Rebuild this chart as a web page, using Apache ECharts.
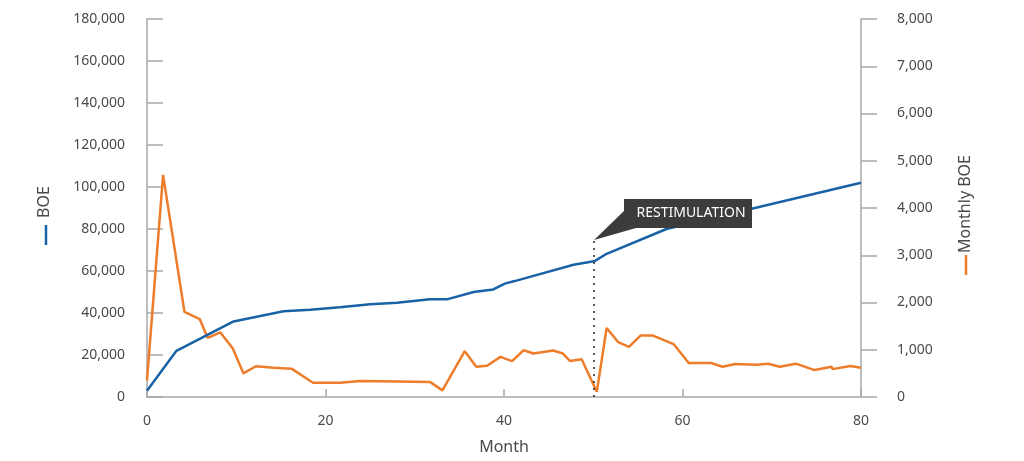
<!DOCTYPE html>
<html>
<head>
<meta charset="utf-8">
<script src="https://cdn.jsdelivr.net/npm/echarts@6/dist/echarts.min.js"></script>
<style>
  html, body { margin: 0; padding: 0; background: #fff; }
  #chart { width: 1024px; height: 461px; }
</style>
</head>
<body>
<div id="chart"></div>
<script>
// cumulative BOE (left axis)
var boeMonths = [0, 3.3, 9.7, 15.3, 18.3, 21.6, 25, 28, 31.7, 33.6, 36.6, 38.8, 40.1, 41.2, 42.9, 47.8, 50.2, 51.5, 58.2, 80];
var boeValues = [3000, 22000, 36000, 40800, 41500, 42700, 44200, 44900, 46500, 46500, 50000, 51200, 54000, 55200, 57200, 63000, 64800, 68200, 80000, 102000];

// monthly BOE (right axis)
var monthlyMonths = [0, 1.8, 4.2, 5.9, 6.8, 8.2, 9.6, 10.8, 12.2, 14.2, 16.2, 18.6, 21.6, 23.9, 28, 31.7, 33.1, 35.6, 36.9, 38.1,
  39.6, 40.9, 42.2, 43.3, 45.5, 46.6, 47.4, 48.7, 50.4, 51.5, 52.8, 54.0, 55.3, 56.7, 59.0, 60.7, 63.2, 64.5, 65.9, 68.3,
  69.6, 70.9, 72.7, 74.8, 76.7, 76.8, 78.8, 80];
var monthlyValues = [350, 4700, 1800, 1650, 1250, 1370, 1030, 500, 650, 620, 600, 300, 300, 340, 330, 320, 140, 970, 640, 660,
  850, 760, 990, 920, 985, 920, 760, 800, 110, 1460, 1160, 1060, 1300, 1300, 1120, 720, 720, 640, 700, 685,
  705, 640, 705, 570, 640, 590, 655, 620];

var restimMonth = 50;
var restimTop = 75000;
var calloutText = 'RESTIMULATION';

var FONT = "'Liberation Sans Narrow', 'Noto Sans', sans-serif";
var BLUE = '#1a62a6';
var ORANGE = '#ee7d2b';
var AXIS = '#a8a8a8';
var LABEL = '#4a4a4a';

function pairs(xs, ys) {
    return xs.map(function(x, i) { return [x, ys[i]]; });
}

function fmt(v) {
    return v.toLocaleString('en-US');
}

var chart = echarts.init(document.getElementById('chart'));

chart.setOption({
    animation: false,
    grid: { left: 147, right: 163, top: 19, bottom: 64 },
    xAxis: {
        type: 'value',
        min: 0, max: 80, interval: 20,
        name: 'Month',
        nameLocation: 'middle',
        nameGap: 42,
        nameTextStyle: { color: LABEL, fontSize: 16, fontFamily: FONT },
        axisLine: { lineStyle: { color: AXIS, width: 1.5 } },
        axisTick: { show: true, inside: true, length: 8, lineStyle: { color: AXIS, width: 1.5 } },
        axisLabel: { color: LABEL, fontSize: 14, fontFamily: FONT, margin: 17 },
        splitLine: { show: false }
    },
    yAxis: [{
        type: 'value',
        min: 0, max: 180000, interval: 20000,
        position: 'left',
        axisLine: { show: true, lineStyle: { color: AXIS, width: 1.5 } },
        axisTick: { show: true, inside: true, length: 16, lineStyle: { color: AXIS, width: 1.5 } },
        axisLabel: { color: LABEL, fontSize: 14, fontFamily: FONT, margin: 22, formatter: fmt },
        splitLine: { show: false }
    }, {
        type: 'value',
        min: 0, max: 8000, interval: 1000,
        position: 'right',
        axisLine: { show: true, lineStyle: { color: AXIS, width: 1.5 } },
        axisTick: { show: true, inside: false, length: 16, lineStyle: { color: AXIS, width: 1.5 } },
        axisLabel: { color: LABEL, fontSize: 14, fontFamily: FONT, margin: 36, formatter: fmt },
        splitLine: { show: false }
    }],
    series: [{
        name: 'BOE',
        type: 'line',
        yAxisIndex: 0,
        showSymbol: false,
        lineStyle: { color: BLUE, width: 2.5 },
        data: pairs(boeMonths, boeValues),
        z: 3,
        markLine: {
            silent: true,
            symbol: 'none',
            label: { show: false },
            lineStyle: { color: '#222', type: [2, 5], width: 1.5 },
            data: [[{ coord: [restimMonth, 0] }, { coord: [restimMonth, restimTop] }]]
        }
    }, {
        name: 'Monthly BOE',
        type: 'line',
        yAxisIndex: 1,
        showSymbol: false,
        lineStyle: { color: ORANGE, width: 2.5 },
        data: pairs(monthlyMonths, monthlyValues),
        z: 2
    }],
    graphic: [
        // callout box with pointer
        {
            type: 'polygon', z: 10,
            shape: { points: [[624, 199], [752, 199], [752, 228], [636, 228], [594, 240], [624, 211]] },
            style: { fill: '#3c3c3c' }
        },
        {
            type: 'text', z: 11, x: 691, y: 213,
            style: { text: calloutText, fill: '#fff', fontSize: 14, fontFamily: FONT, align: 'center', verticalAlign: 'middle' }
        },
        // left axis title with legend dash
        {
            type: 'text', x: 44, y: 202, rotation: Math.PI / 2,
            style: { text: 'BOE', fill: LABEL, fontSize: 16, fontFamily: FONT, align: 'center', verticalAlign: 'middle' }
        },
        {
            type: 'line', shape: { x1: 46, y1: 225, x2: 46, y2: 245 },
            style: { stroke: BLUE, lineWidth: 2.5 }
        },
        // right axis title with legend dash
        {
            type: 'text', x: 965, y: 204, rotation: Math.PI / 2,
            style: { text: 'Monthly BOE', fill: LABEL, fontSize: 16, fontFamily: FONT, align: 'center', verticalAlign: 'middle' }
        },
        {
            type: 'line', shape: { x1: 966, y1: 255, x2: 966, y2: 275 },
            style: { stroke: ORANGE, lineWidth: 2.5 }
        }
    ]
});
</script>
</body>
</html>
